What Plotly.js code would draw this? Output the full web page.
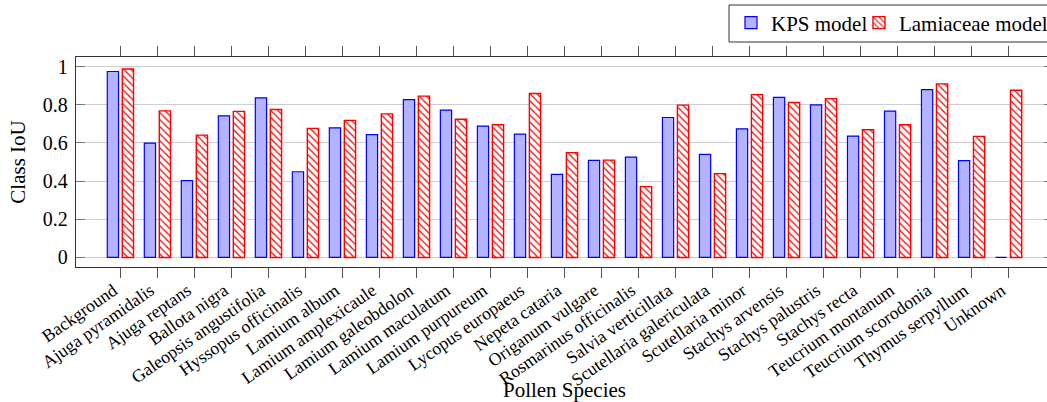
<!DOCTYPE html>
<html>
<head>
<meta charset="utf-8">
<script src="https://cdn.plot.ly/plotly-3.0.1.min.js"></script>
<style>
html, body { margin: 0; padding: 0; overflow: hidden; background: #fff; }
#chart { width: 1060px; height: 402px; }
</style>
</head>
<body>
<div id="chart"></div>
<script>
const categories = [
  "Background", "Ajuga pyramidalis", "Ajuga reptans", "Ballota nigra",
  "Galeopsis angustifolia", "Hyssopus officinalis", "Lamium album",
  "Lamium amplexicaule", "Lamium galeobdolon", "Lamium maculatum",
  "Lamium purpureum", "Lycopus europaeus", "Nepeta cataria",
  "Origanum vulgare", "Rosmarinus officinalis", "Salvia verticillata",
  "Scutellaria galericulata", "Scutellaria minor", "Stachys arvensis",
  "Stachys palustris", "Stachys recta", "Teucrium montanum",
  "Teucrium scorodonia", "Thymus serpyllum", "Unknown"
];
const kpsValues = [
  0.974, 0.599, 0.402, 0.742, 0.836, 0.449, 0.679, 0.643, 0.827, 0.772,
  0.688, 0.646, 0.435, 0.509, 0.526, 0.733, 0.540, 0.674, 0.838, 0.799,
  0.636, 0.766, 0.879, 0.507, 0.0
];
const lamiaceaeValues = [
  0.987, 0.768, 0.641, 0.765, 0.775, 0.676, 0.718, 0.752, 0.845, 0.724,
  0.695, 0.859, 0.549, 0.510, 0.371, 0.798, 0.439, 0.853, 0.812, 0.832,
  0.669, 0.695, 0.909, 0.634, 0.876
];
const yTickValues = [0, 0.2, 0.4, 0.6, 0.8, 1];
const yTickLabels = ["0", "0.2", "0.4", "0.6", "0.8", "1"];

const serif = "Liberation Serif";

const traces = [
  {
    type: "bar", name: "KPS model", x: categories, y: kpsValues, legend: "legend",
    marker: { color: "rgb(179,179,255)", line: { color: "rgb(0,0,255)", width: 1.2 } }
  },
  {
    type: "bar", name: "Lamiaceae model", x: categories, y: lamiaceaeValues, legend: "legend2",
    marker: {
      color: "#ffffff",
      line: { color: "rgb(255,0,0)", width: 1.4 },
      pattern: { shape: "\\", fgcolor: "rgb(255,0,0)", bgcolor: "#ffffff", size: 5, solidity: 0.25, fillmode: "replace" }
    }
  }
];

const legendCommon = {
  orientation: "h", xanchor: "left", y: 1.162, yanchor: "middle",
  borderwidth: 0, bgcolor: "rgba(0,0,0,0)",
  font: { family: serif, size: 21, color: "#000" }
};

const layout = {
  width: 1060, height: 402, autosize: false,
  margin: { l: 76, r: 7, t: 57, b: 135, autoexpand: false },
  paper_bgcolor: "#fff", plot_bgcolor: "#fff",
  font: { family: serif, color: "#000", size: 17 },
  barmode: "group", bargap: 0.19, bargroupgap: 0.25,
  showlegend: true,
  legend: Object.assign({}, legendCommon, { x: 0.6704 }),
  legend2: Object.assign({}, legendCommon, { x: 0.8014 }),
  shapes: [{
    type: "rect", xref: "paper", yref: "paper", layer: "below",
    x0: 0.6684, x1: 1.03, y0: 1.0714, y1: 1.2476,
    line: { color: "#333", width: 1 }, fillcolor: "rgba(0,0,0,0)"
  }],
  xaxis: {
    type: "category", range: [-1.2, 25.2], automargin: false,
    tickangle: -35, tickfont: { family: serif, size: 17.8 },
    ticks: "outside", ticklen: 10, tickcolor: "#555", tickwidth: 1,
    ticklabelshift: -7, ticklabelstandoff: -5,
    showline: true, linecolor: "#333", linewidth: 1.3, mirror: "ticks",
    showgrid: false, zeroline: false,
    title: { text: "Pollen Species", font: { family: serif, size: 21 }, standoff: 19 }
  },
  yaxis: {
    range: [-0.05, 1.05], automargin: false,
    tickvals: yTickValues, ticktext: yTickLabels,
    tickfont: { family: serif, size: 20 },
    ticks: "inside", ticklen: 9, tickcolor: "#777", tickwidth: 1,
    showline: true, linecolor: "#333", linewidth: 1.3, mirror: "ticks",
    showgrid: true, gridcolor: "#cfcfcf", gridwidth: 1, zeroline: false,
    ticklabelstandoff: 3,
    title: { text: "Class IoU", font: { family: serif, size: 21 }, standoff: 11 }
  }
};

Plotly.newPlot("chart", traces, layout, { displayModeBar: false, staticPlot: true });
</script>
</body>
</html>
